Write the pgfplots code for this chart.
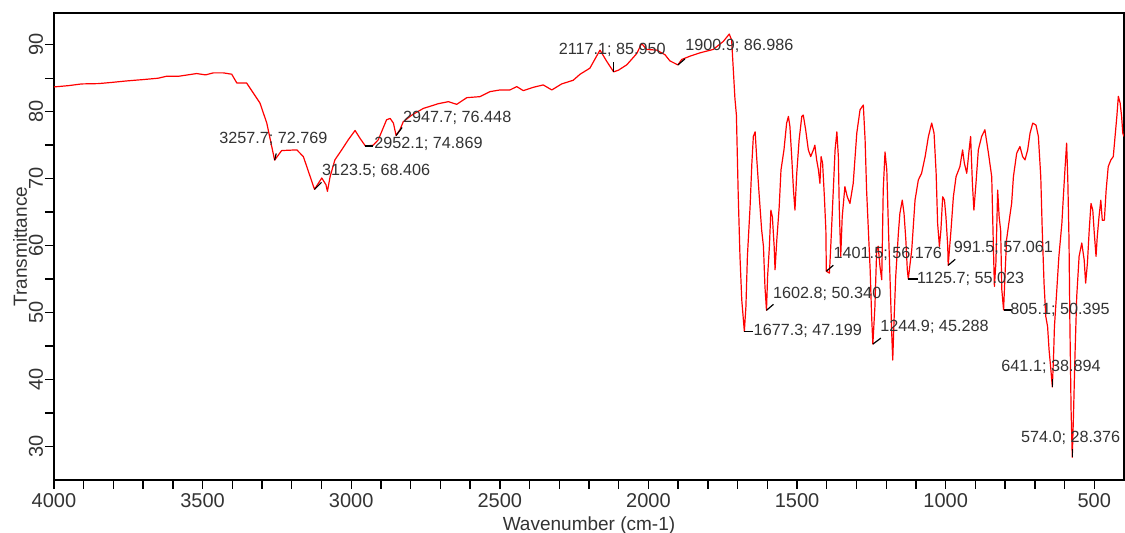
\documentclass[border=0pt]{standalone}
\usepackage{fontspec}
\setmainfont{Liberation Sans}
\usepackage{pgfplots}
\pgfplotsset{compat=1.18}

\begin{document}
\begin{tikzpicture}
\useasboundingbox (-27pt,-26.5pt) rectangle (535.5pt,240pt);
\tikzset{
  pk/.style={font=\fontsize{8.1}{9}\selectfont, text=black!80, inner sep=0pt},
  lead/.style={black, line width=0.6pt},
}
\begin{axis}[
  at={(0,0)}, anchor=south west,
  scale only axis, width=535pt, height=233.35pt,
  x dir=reverse, xmin=400, xmax=4000, ymin=25, ymax=94.7,
  xtick={500,1000,...,4000}, minor x tick num=4,
  ytick={30,40,...,90}, minor y tick num=1,
  tick align=outside, tick pos=left,
  major tick length=4.5pt, minor tick length=4.5pt,
  axis line style={black, line width=1pt},
  tick style={black, line width=0.7pt},
  /pgf/number format/assume math mode=true,
  /pgf/number format/set thousands separator={},
  ticklabel style={font=\fontsize{10}{12}\selectfont, text=black!80},
  xticklabel style={inner sep=2pt},
  yticklabel style={rotate=90, anchor=south, inner sep=0.8pt},
  xlabel={Wavenumber (cm-1)},
  ylabel={Transmittance},
  label style={font=\fontsize{9.5}{11}\selectfont, text=black!80},
  x label style={at={(axis description cs:0.5,-0.0975)}, anchor=center},
  y label style={at={(axis description cs:-0.0318,0.5)}, anchor=center},
]

% FTIR spectrum
\addplot[red, line width=0.6pt, line join=round] table {
x y
4000 83.7
3950 83.9
3907 84.15
3850 84.2
3800 84.4
3755 84.6
3700 84.8
3650 85.0
3621 85.3
3580 85.3
3520 85.7
3490 85.5
3464 85.8
3430 85.8
3402 85.6
3385 84.3
3352 84.3
3307 81.3
3284 78.3
3257.7 72.77
3234 74.2
3183 74.3
3161 73.3
3123.5 68.41
3099 70.1
3085 69.1
3080 68.1
3071 70.3
3055 72.8
3032 74.3
3010 75.8
2987 77.2
2970 76.0
2952.1 74.87
2926 75.0
2909 75.8
2881 78.8
2869 79.0
2858 78.3
2849 76.45
2836 77.3
2825 78.5
2796 79.5
2757 80.5
2735 80.8
2707 81.2
2673 81.5
2645 81.1
2611 82.1
2567 82.25
2533 83.0
2499 83.25
2466 83.25
2443 83.75
2421 83.15
2387 83.65
2354 84.0
2325 83.25
2292 84.15
2253 84.7
2230 85.6
2197 86.5
2163 89.2
2140 87.5
2117.1 85.95
2101 86.2
2073 87.0
2039 88.7
2023 90.2
2006 89.3
1972 89.2
1944 88.5
1928 87.6
1900.9 86.99
1888 87.8
1860 88.3
1826 88.8
1782 89.3
1748 90.5
1728 91.6
1720 90.7
1709 82.0
1704 79.5
1698 67.8
1692 58.4
1686 51.9
1677.3 47.2
1672 50.9
1667 58.4
1658 65.8
1652 72.3
1647 76.3
1641 77.0
1636 73.3
1627 67.3
1619 62.3
1613 59.9
1608 53.9
1602.8 50.34
1599 55.4
1593 59.9
1588 65.3
1583 64.3
1577 59.9
1574 56.4
1568 60.9
1560 65.8
1554 71.3
1544 74.3
1535 78.3
1529 79.3
1524 77.8
1518 73.3
1512 68.3
1507 65.3
1501 70.8
1493 75.8
1484 79.3
1479 79.5
1471 77.3
1462 74.3
1454 73.3
1445 74.3
1440 75.0
1434 72.8
1428 71.3
1423 69.3
1419 73.3
1414 72.3
1408 67.3
1403 62.3
1401.5 56.18
1391 55.9
1386 60.4
1378 68.3
1372 74.3
1366 77.0
1361 73.3
1358 65.8
1353 58.4
1348 64.3
1339 68.8
1331 67.3
1322 66.3
1311 69.3
1299 76.8
1288 80.3
1277 81.0
1271 75.8
1266 68.3
1260 62.3
1254 56.4
1249 49.4
1244.9 45.29
1238 50.9
1232 59.4
1227 59.9
1221 56.9
1215 54.9
1210 68.3
1204 74.0
1198 71.3
1193 63.3
1187 54.9
1181 46.4
1178 42.9
1174 48.4
1168 55.4
1159 61.9
1154 64.8
1146 66.8
1140 64.8
1134 60.9
1129 56.4
1125.7 55.02
1114 59.4
1103 66.8
1092 69.8
1081 70.8
1069 73.3
1058 76.3
1047 78.3
1039 76.8
1032 70.8
1027 63.3
1021 59.9
1016 62.3
1010 67.3
1004 66.8
999 64.3
993 59.9
991.5 57.06
982 62.3
974 67.3
965 70.3
952 71.8
943 74.3
937 72.3
929 70.8
921 74.3
916 76.3
910 69.3
905 65.3
898 69.3
890 74.3
879 76.3
868 77.3
856 73.8
845 70.3
840 60.9
836 53.9
831 57.4
825 68.3
820 64.3
815 62.3
811 53.4
805.1 50.40
800 55.9
795 60.9
786 63.8
778 66.3
772 70.3
761 73.8
750 74.8
741 73.3
733 72.8
724 74.3
716 76.8
707 78.3
696 78.0
688 76.3
680 70.3
675 62.3
669 54.4
663 49.4
657 47.9
652 44.4
646 41.5
641.1 38.89
637 43.4
634 47.9
626 53.4
619 58.4
609 63.3
604 67.3
598 71.8
593 75.3
589 69.8
585 60.9
582 48.4
578 35.5
574.0 28.38
570 34.5
565 43.4
559 52.4
551 58.4
542 60.4
534 57.9
529 54.4
523 57.4
517 62.3
511 66.3
505 65.3
500 61.9
494 58.4
490 61.3
484 64.3
478 66.8
473 63.8
466 63.8
460 68.3
453 71.8
444 72.8
436 73.3
430 76.3
424 79.3
419 82.3
413 81.3
408 79.3
404 76.8
400 76.3
};

% peak labels, centred above the peak
\draw[lead] (axis cs:3257.7,72.769) -- ++(0.8pt,3.3pt);
\node[pk, xshift=-0.65pt, yshift=10.6pt] at (axis cs:3257.7,72.769) {3257.7; 72.769};
\draw[lead] (axis cs:2117.1,85.95) -- ++(0pt,5pt);
\node[pk, xshift=-0.7pt, yshift=10.85pt] at (axis cs:2117.1,85.95) {2117.1; 85.950};
\draw[lead] (axis cs:641.1,38.894) -- ++(0pt,4pt);
\node[pk, xshift=-0.65pt, yshift=9.85pt] at (axis cs:641.1,38.894) {641.1; 38.894};
\draw[lead] (axis cs:574.0,28.376) -- ++(0pt,4pt);
\node[pk, xshift=-0.85pt, yshift=9.95pt] at (axis cs:574.0,28.376) {574.0; 28.376};

% peak labels up and to the right
\draw[lead] (axis cs:3123.5,68.406) -- ++(3.5pt,3.5pt);
\node[pk, anchor=west, xshift=3.6pt, yshift=9.35pt] at (axis cs:3123.5,68.406) {3123.5; 68.406};
\draw[lead] (axis cs:2849,76.448) -- ++(3pt,4pt);
\node[pk, anchor=west, xshift=3.35pt, yshift=8.95pt] at (axis cs:2849,76.448) {2947.7; 76.448};
\draw[lead] (axis cs:1900.9,86.986) -- ++(3.5pt,3pt);
\node[pk, anchor=west, xshift=3.55pt, yshift=9.4pt] at (axis cs:1900.9,86.986) {1900.9; 86.986};
\draw[lead] (axis cs:1602.8,50.34) -- ++(3.5pt,3pt);
\node[pk, anchor=west, xshift=3.15pt, yshift=8.45pt] at (axis cs:1602.8,50.34) {1602.8; 50.340};
\draw[lead] (axis cs:1401.5,56.176) -- ++(3.5pt,3pt);
\node[pk, anchor=west, xshift=3.5pt, yshift=8.65pt] at (axis cs:1401.5,56.176) {1401.5; 56.176};
\draw[lead] (axis cs:1244.9,45.288) -- ++(4pt,3pt);
\node[pk, anchor=west, xshift=3.6pt, yshift=8.85pt] at (axis cs:1244.9,45.288) {1244.9; 45.288};
\draw[lead] (axis cs:991.5,57.061) -- ++(3.5pt,3pt);
\node[pk, anchor=west, xshift=2.6pt, yshift=8.6pt] at (axis cs:991.5,57.061) {991.5; 57.061};

% peak labels straight to the right
\draw[lead] (axis cs:2952.1,74.869) -- ++(3.7pt,0pt);
\node[pk, anchor=west, xshift=4.3pt, yshift=1.05pt] at (axis cs:2952.1,74.869) {2952.1; 74.869};
\draw[lead] (axis cs:1677.3,47.199) -- ++(4.5pt,0pt);
\node[pk, anchor=west, xshift=4.5pt, yshift=0.2pt] at (axis cs:1677.3,47.199) {1677.3; 47.199};
\draw[lead] (axis cs:1125.7,55.023) -- ++(5pt,0pt);
\node[pk, anchor=west, xshift=4.25pt, yshift=0.25pt] at (axis cs:1125.7,55.023) {1125.7; 55.023};
\draw[lead] (axis cs:805.1,50.395) -- ++(4pt,0pt);
\node[pk, anchor=west, xshift=3.25pt, yshift=0.25pt] at (axis cs:805.1,50.395) {805.1; 50.395};

\end{axis}
\end{tikzpicture}
\end{document}
